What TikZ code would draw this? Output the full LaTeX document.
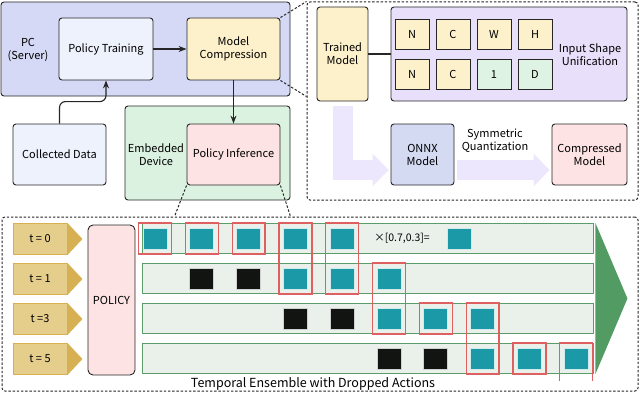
\documentclass[tikz,border=0pt]{standalone}
\usepackage{fontspec}
\setmainfont{Noto Sans CJK SC}
\usepackage{xcolor}
\usetikzlibrary{positioning,arrows.meta,calc}
\definecolor{pccolor}{RGB}{214,217,245}
\definecolor{lightcolor}{RGB}{238,242,253}
\definecolor{modelcolor}{RGB}{253,241,204}
\definecolor{devicecolor}{RGB}{220,242,225}
\definecolor{infercolor}{RGB}{253,227,227}
\definecolor{unifycolor}{RGB}{232,224,250}
\definecolor{cellgreen}{RGB}{223,243,228}
\definecolor{onnxcolor}{RGB}{213,218,243}
\definecolor{arrowlav}{RGB}{236,231,253}
\definecolor{tanfill}{RGB}{229,205,140}
\definecolor{tangold}{RGB}{214,176,83}
\definecolor{lanefill}{RGB}{233,241,234}
\definecolor{laneedge}{RGB}{91,157,105}
\definecolor{flowgreen}{RGB}{82,155,98}
\definecolor{actcolor}{RGB}{27,153,166}
\definecolor{dropcolor}{RGB}{18,20,18}
\definecolor{pickcolor}{RGB}{222,96,96}
\tikzset{
  base font/.style={font=\fontsize{11}{13}\selectfont},
  group box/.style={
    draw=black!85,
    line width=0.9pt,
    rounded corners=3pt,
    inner sep=0pt
  },
  stage box/.style={
    group box,
    align=center,
    base font
  },
  cell box/.style={
    draw=black!85,
    line width=0.9pt,
    minimum width=34pt,
    minimum height=30pt,
    inner sep=0pt,
    base font
  },
  zoom frame/.style={
    draw=black!85,
    line width=1pt,
    dash pattern=on 2.4pt off 1.8pt,
    rounded corners=3pt,
    inner sep=0pt
  },
  zoom line/.style={
    draw=black!85,
    line width=1pt,
    dash pattern=on 2.4pt off 1.8pt
  },
  arrow/.style={
    ->,
    >=Stealth,
    line width=1.1pt,
    draw=black!85
  },
  big arrow/.style={
    draw=arrowlav,
    line width=20pt,
    -{Triangle[width=32pt,length=16pt]}
  },
  time box/.style={
    fill=tanfill,
    draw=tangold,
    line width=0.9pt,
    minimum width=54pt,
    minimum height=31pt,
    inner sep=0pt,
    base font
  },
  lane/.style={
    fill=lanefill,
    draw=laneedge,
    line width=0.9pt,
    minimum width=451pt,
    minimum height=30pt,
    inner sep=0pt
  },
  act/.style={
    fill=actcolor,
    draw=actcolor!20,
    line width=0.9pt,
    minimum width=24pt,
    minimum height=21pt,
    inner sep=0pt
  },
  drop act/.style={
    act,
    fill=dropcolor,
    draw=dropcolor!20
  },
  pick/.style={
    draw=pickcolor,
    line width=1.3pt
  }
}
\begin{document}
\begin{tikzpicture}[x=1pt,y=-1pt]
  \useasboundingbox (0,0) rectangle (640,396);

  % PC (Server) side
  \node[group box, fill=pccolor, minimum width=289pt, minimum height=94pt] (pc) at (145.5,49) {};
  \node[align=center, base font] (pclabel) at (28,50) {PC\\(Server)};
  \node[stage box, fill=lightcolor, minimum width=94pt, minimum height=62pt] (train) at (106,49) {Policy Training};
  \node[stage box, fill=modelcolor, minimum width=93pt, minimum height=62pt] (compress) at (233.5,49) {Model\\Compression};
  \node[stage box, fill=lightcolor, minimum width=93pt, minimum height=61pt] (data) at (59.5,154.5) {Collected Data};

  % Embedded device
  \node[group box, fill=devicecolor, minimum width=165pt, minimum height=94pt] (device) at (207.5,153) {};
  \node[align=center, base font] (devlabel) at (156,155) {Embedded\\Device};
  \node[stage box, fill=infercolor, minimum width=93pt, minimum height=61pt] (infer) at (233.5,154.5) {Policy Inference};

  \draw[arrow] (train) -- (compress);
  \draw[arrow, rounded corners=6pt] (data.north) -- ++(0,-22) -| (train.south);
  \draw[arrow] (compress.south) -- (infer.north);

  % Compression detail
  \node[zoom frame, minimum width=331pt, minimum height=198pt] (zoomframe) at (472.5,101) {};
  \coordinate (zoomhook) at ($(zoomframe.north west)+(0,95)$);
  \draw[zoom line] (compress.north east) -- (zoomframe.north west);
  \draw[zoom line] (compress.south east) -- (zoomhook);

  \node[stage box, fill=modelcolor, minimum width=51pt, minimum height=94pt] (trained) at (342.5,54) {Trained\\Model};
  \node[group box, fill=unifycolor, minimum width=236pt, minimum height=94pt] (unify) at (509,54) {};
  \draw[line width=1.1pt, draw=black!85] (trained) -- (unify);
  \foreach \lbl [count=\i from 0] in {N,C,W,H}
    \node[cell box, fill=modelcolor] (shapeA-\i) at ({412+41*\i},34) {\lbl};
  \foreach \lbl/\col [count=\i from 0] in {N/modelcolor,C/modelcolor,1/cellgreen,D/cellgreen}
    \node[cell box, fill=\col] (shapeB-\i) at ({412+41*\i},74.5) {\lbl};
  \node[align=center, base font] (unifylabel) at (590,55) {Input Shape\\Unification};

  \node[stage box, fill=onnxcolor, minimum width=63pt, minimum height=61pt] (onnx) at (422.5,154.5) {ONNX\\Model};
  \node[stage box, fill=infercolor, minimum width=75pt, minimum height=61pt] (compressed) at (589.5,154.5) {Compressed\\Model};
  \draw[big arrow] ($(trained.south)+(0,5)$) |- ($(onnx.west)+(-2,15.5)$);
  \draw[big arrow] ($(onnx.east)+(3,15.5)$) -- ($(compressed.west)+(-2,15.5)$);
  \node[align=center, base font] (quantlabel) at (495,141) {Symmetric\\Quantization};

  % Temporal ensemble detail
  \node[zoom frame, minimum width=636pt, minimum height=174pt] (ensframe) at (320,304) {};
  \coordinate (enshookL) at ($(ensframe.north west)+(173,0)$);
  \coordinate (enshookR) at ($(ensframe.north west)+(289,0)$);
  \draw[zoom line] (infer.south west) -- (enshookL);
  \draw[zoom line] (infer.south east) -- (enshookR);

  \foreach \lbl [count=\i from 0] in {t = 0,t = 1,t =3,t = 5} {
    \node[time box] (time-\i) at (40,{239+40*\i}) {\lbl};
    \fill[tangold] (time-\i.north east) -- ($(time-\i.east)+(15,0)$) -- (time-\i.south east) -- cycle;
  }
  \node[stage box, fill=infercolor, rounded corners=5pt, minimum width=47pt, minimum height=150pt] (policy) at (111.5,300) {POLICY};

  \foreach \r in {0,...,3}
    \node[lane] (lane-\r) at (367.5,{238.5+40*\r}) {};
  \fill[flowgreen] ($(lane-0.north east)+(2,0)$) -- ($(lane-0.north east)!0.5!(lane-3.south east)+(34,0)$) -- ($(lane-3.south east)+(2,0)$) -- cycle;

  % actions per step
  \foreach \c in {0,...,4}
    \node[act] (sq-0-\c) at ({155+46.8*\c},238.5) {};
  \foreach \r in {1,2,3} {
    \foreach \k [evaluate=\k as \c using int(2*\r+\k)] in {-1,0}
      \node[drop act] (sq-\r-\c) at ({155+46.8*\c},{238.5+40*\r}) {};
    \foreach \k [evaluate=\k as \c using int(2*\r+\k)] in {1,2,3}
      \node[act] (sq-\r-\c) at ({155+46.8*\c},{238.5+40*\r}) {};
  }
  \node[font=\fontsize{10.5}{12}\selectfont] (weights) at (402,238.5) {×[0.7,0.3]=};
  \node[act] (merged) at (459,238.5) {};

  % chosen actions
  \foreach \a/\b in {sq-0-0/sq-0-0,sq-0-1/sq-0-1,sq-0-2/sq-0-2,sq-0-3/sq-1-3,sq-0-4/sq-1-4,sq-1-5/sq-2-5,sq-2-6/sq-2-6,sq-2-7/sq-3-7,sq-3-8/sq-3-8}
    \draw[pick] ($(\a.north west)+(-4,-4.5)$) rectangle ($(\b.south east)+(4,4.5)$);
  \draw[pick] ($(sq-3-9.south west)+(-4,11.5)$) |- ($(sq-3-9.north)+(0,-4.5)$) -| ($(sq-3-9.south east)+(4,11.5)$);

  \node[font=\fontsize{12.5}{14}\selectfont] (enslabel) at (313,384) {Temporal Ensemble with Dropped Actions};
\end{tikzpicture}
\end{document}
